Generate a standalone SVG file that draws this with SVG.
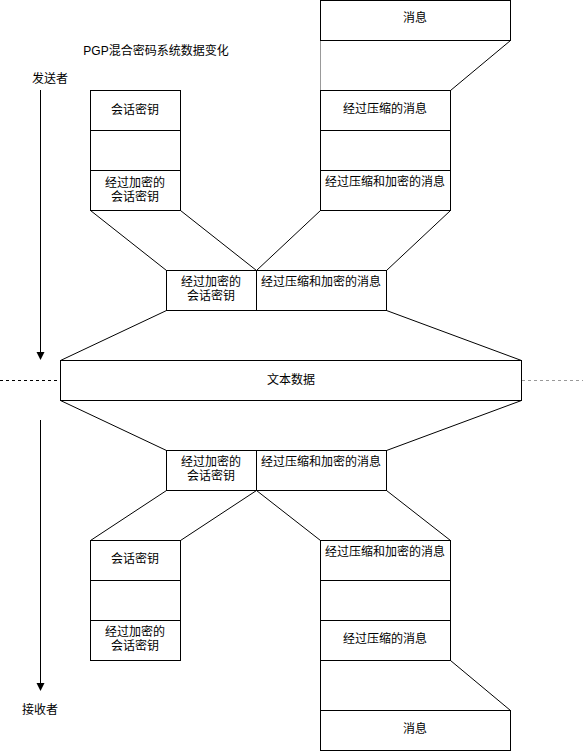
<svg xmlns="http://www.w3.org/2000/svg" width="583" height="751" viewBox="0 0 583 751">
<style>
.b{fill:#fff;stroke:#000;stroke-width:1}
.l{stroke:#000;stroke-width:1;fill:none}
.g{stroke:#999;stroke-width:1;fill:none}
text{font-family:"Liberation Sans","Noto Sans CJK SC",sans-serif;font-size:12px;fill:#000;text-anchor:middle;dominant-baseline:central}
</style>
<defs>
<marker id="ah" markerWidth="8" markerHeight="10" refX="7" refY="5" orient="auto" markerUnits="userSpaceOnUse">
<path d="M0,1 L8,5 L0,9 Z" fill="#000"/>
</marker>
</defs>
<rect width="583" height="751" fill="#fff"/>
<text id="title" x="156" y="51">PGP混合密码系统数据变化</text>
<g id="sender"><text x="50" y="79">发送者</text></g>
<g id="receiver"><text x="40" y="710">接收者</text></g>
<g id="connectors">
<line class="l" x1="40.5" y1="90" x2="40.5" y2="359" marker-end="url(#ah)"/>
<line class="l" x1="40.5" y1="420" x2="40.5" y2="690" marker-end="url(#ah)"/>
<line class="l" x1="0" y1="380.5" x2="60" y2="380.5" stroke-dasharray="3,3"/>
<line class="g" x1="522" y1="380.5" x2="583" y2="380.5" stroke-dasharray="3,3"/>
<line class="g" x1="320.5" y1="40.5" x2="320.5" y2="90.5"/>
<line class="l" x1="510.5" y1="40.5" x2="450.5" y2="90.5"/>
<line class="l" x1="90.5" y1="210.5" x2="166.5" y2="270.5"/>
<line class="l" x1="180.5" y1="210.5" x2="256.5" y2="270.5"/>
<line class="l" x1="320.5" y1="210.5" x2="256.5" y2="270.5"/>
<line class="l" x1="450.5" y1="210.5" x2="386.5" y2="270.5"/>
<line class="l" x1="166.5" y1="310.5" x2="60.5" y2="360.5"/>
<line class="l" x1="386.5" y1="310.5" x2="521.5" y2="360.5"/>
<line class="l" x1="60.5" y1="400.5" x2="166.5" y2="450.5"/>
<line class="l" x1="521.5" y1="400.5" x2="386.5" y2="450.5"/>
<line class="l" x1="166.5" y1="490.5" x2="90.5" y2="540.5"/>
<line class="l" x1="256.5" y1="490.5" x2="180.5" y2="540.5"/>
<line class="l" x1="256.5" y1="490.5" x2="320.5" y2="540.5"/>
<line class="l" x1="386.5" y1="490.5" x2="450.5" y2="540.5"/>
<line class="l" x1="320.5" y1="660.5" x2="320.5" y2="710.5"/>
<line class="l" x1="450.5" y1="660.5" x2="510.5" y2="710.5"/>
</g>
<g id="msg-top"><rect class="b" x="320.5" y="0.5" width="190" height="40"/><text x="415" y="18">消息</text></g>
<g id="tl-key"><rect class="b" x="90.5" y="90.5" width="90" height="40"/><text x="135" y="110">会话密钥</text></g>
<g id="tl-blank"><rect class="b" x="90.5" y="130.5" width="90" height="40"/></g>
<g id="tl-enckey"><rect class="b" x="90.5" y="170.5" width="90" height="40"/><text x="135" y="183">经过加密的</text><text x="135" y="197">会话密钥</text></g>
<g id="tr-comp"><rect class="b" x="320.5" y="90.5" width="130" height="40"/><text x="385" y="109">经过压缩的消息</text></g>
<g id="tr-blank"><rect class="b" x="320.5" y="130.5" width="130" height="40"/></g>
<g id="tr-enc"><rect class="b" x="320.5" y="170.5" width="130" height="40"/><text x="385" y="182">经过压缩和加密的消息</text></g>
<g id="mt-key"><rect class="b" x="166.5" y="270.5" width="90" height="40"/><text x="211" y="282">经过加密的</text><text x="211" y="296">会话密钥</text></g>
<g id="mt-msg"><rect class="b" x="256.5" y="270.5" width="130" height="40"/><text x="321" y="282">经过压缩和加密的消息</text></g>
<g id="text-data"><rect class="b" x="60.5" y="360.5" width="461" height="40"/><text x="291" y="380">文本数据</text></g>
<g id="mb-key"><rect class="b" x="166.5" y="450.5" width="90" height="40"/><text x="211" y="462">经过加密的</text><text x="211" y="476">会话密钥</text></g>
<g id="mb-msg"><rect class="b" x="256.5" y="450.5" width="130" height="40"/><text x="321" y="462">经过压缩和加密的消息</text></g>
<g id="bl-key"><rect class="b" x="90.5" y="540.5" width="90" height="40"/><text x="135" y="559">会话密钥</text></g>
<g id="bl-blank"><rect class="b" x="90.5" y="580.5" width="90" height="40"/></g>
<g id="bl-enckey"><rect class="b" x="90.5" y="620.5" width="90" height="40"/><text x="135" y="632">经过加密的</text><text x="135" y="646">会话密钥</text></g>
<g id="br-enc"><rect class="b" x="320.5" y="540.5" width="130" height="40"/><text x="385" y="552">经过压缩和加密的消息</text></g>
<g id="br-blank"><rect class="b" x="320.5" y="580.5" width="130" height="40"/></g>
<g id="br-comp"><rect class="b" x="320.5" y="620.5" width="130" height="40"/><text x="385" y="639">经过压缩的消息</text></g>
<g id="msg-bottom"><rect class="b" x="320.5" y="710.5" width="190" height="40"/><text x="415" y="729">消息</text></g>
</svg>
